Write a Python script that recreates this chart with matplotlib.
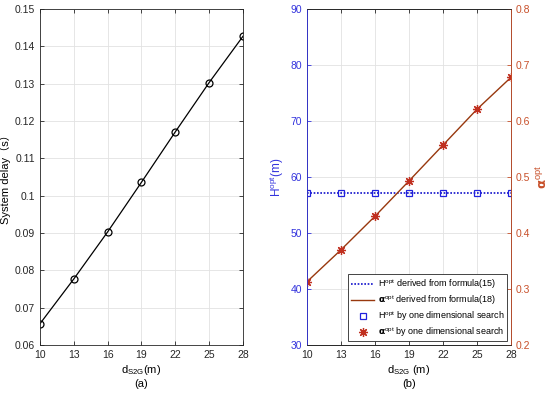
import matplotlib
matplotlib.use("Agg")
import matplotlib.pyplot as plt

plt.rcParams['font.family'] = ['Liberation Sans', 'Noto Sans CJK SC', 'DejaVu Sans']
plt.rcParams['mathtext.fontset'] = 'custom'
plt.rcParams['mathtext.rm'] = 'Liberation Sans'
plt.rcParams['mathtext.it'] = 'Liberation Sans'

d_s2g = [10, 13, 16, 19, 22, 25, 28]
delay = [0.0657, 0.0777, 0.0903, 0.1036, 0.1171, 0.1303, 0.1427]
h_formula = [57.1, 57.1, 57.1, 57.1, 57.1, 57.1, 57.1]
h_search = [57.1, 57.1, 57.1, 57.1, 57.1, 57.1, 57.1]
alpha_formula = [0.313, 0.370, 0.430, 0.493, 0.557, 0.621, 0.678]
alpha_search = [0.313, 0.370, 0.430, 0.493, 0.557, 0.621, 0.678]

blue = '#3333dd'
red = '#c8502a'
line_red = '#98380e'
fs = 7.5

fig = plt.figure(figsize=(5.5, 3.95), dpi=100)

# (a) system delay
ax1 = fig.add_axes([0.0727, 0.1266, 0.3691, 0.8506])
ax1.plot(d_s2g, delay, color='black', lw=0.9, marker='o', ms=5,
         mfc='none', mec='black', mew=0.9)
ax1.set_xlim(10, 28)
ax1.set_ylim(0.06, 0.15)
ax1.set_xticks(d_s2g)
ax1.set_yticks([0.06, 0.07, 0.08, 0.09, 0.1, 0.11, 0.12, 0.13, 0.14, 0.15])
ax1.set_yticklabels(['0.06', '0.07', '0.08', '0.09', '0.1', '0.11', '0.12',
                     '0.13', '0.14', '0.15'])
ax1.grid(True, color='#e2e2e2', lw=0.6)
ax1.tick_params(direction='in', top=True, right=True, labelsize=fs,
                length=3, width=0.6, colors='#262626')
for s in ax1.spines.values():
    s.set_linewidth(0.6)
    s.set_color('#262626')
ax1.set_ylabel('System delay（s）', fontsize=fs + 0.5, labelpad=3)
ax1.set_xlabel('d$_{\\mathrm{S2G}}$(m)\n(a)', fontsize=fs + 0.5, labelpad=2,
               linespacing=1.3)

# (b) optimal height and alpha
ax2 = fig.add_axes([0.5582, 0.1266, 0.3709, 0.8506])
ax3 = ax2.twinx()
l1, = ax2.plot(d_s2g, h_formula, color='#1010cc', lw=1.2, ls=(0, (1, 1)))
l3, = ax2.plot(d_s2g, h_search, color='#2020dd', lw=0, marker='s', ms=4.5,
               mfc='none', mew=0.9)
l2, = ax3.plot(d_s2g, alpha_formula, color=line_red, lw=1.0)
l4, = ax3.plot(d_s2g, alpha_search, color='#c03020', lw=0, marker=(8, 2, 0),
               ms=6.5, mew=0.9)

ax2.set_xlim(10, 28)
ax2.set_ylim(30, 90)
ax3.set_ylim(0.2, 0.8)
ax2.set_xticks(d_s2g)
ax2.set_yticks([30, 40, 50, 60, 70, 80, 90])
ax3.set_yticks([0.2, 0.3, 0.4, 0.5, 0.6, 0.7, 0.8])
ax2.grid(True, color='#e2e2e2', lw=0.6)
ax2.tick_params(axis='x', direction='in', top=True, labelsize=fs,
                length=3, width=0.6, colors='#262626')
ax2.tick_params(axis='y', direction='in', labelsize=fs, length=3, width=0.6,
                colors=blue)
ax3.tick_params(axis='y', direction='in', labelsize=fs, length=3, width=0.6,
                colors=red)
for s in ax2.spines.values():
    s.set_linewidth(0.6)
    s.set_color('#262626')
ax3.spines['left'].set_color(blue)
ax3.spines['right'].set_color(red)
ax3.spines['top'].set_color('#262626')
ax3.spines['bottom'].set_color('#262626')
for s in ax3.spines.values():
    s.set_linewidth(0.6)

ax2.set_ylabel('H$^{\\mathrm{opt}}$(m)', fontsize=fs + 1, color=blue, labelpad=3)
ax3.set_ylabel('$\\mathbf{\\alpha}^{\\mathrm{opt}}$', fontsize=fs + 2,
               color=red, labelpad=3)
ax2.set_xlabel('d$_{\\mathrm{S2G}}$ (m)\n(b)', fontsize=fs + 0.5, labelpad=2,
               linespacing=1.3)

leg = ax3.legend([l1, l2, l3, l4],
                 ['H$^{\\mathrm{opt}}$ derived from formula(15)',
                  '$\\mathbf{\\alpha}^{\\mathrm{opt}}$ derived from formula(18)',
                  'H$^{\\mathrm{opt}}$ by one dimensional search',
                  '$\\mathbf{\\alpha}^{\\mathrm{opt}}$ by one dimensional search'],
                 loc='lower right', fontsize=6.5, frameon=True, fancybox=False,
                 framealpha=1, edgecolor='#262626', handlelength=2.6,
                 borderpad=0.3, labelspacing=0.25, handletextpad=0.4,
                 borderaxespad=0.4)
leg.get_frame().set_linewidth(0.6)

fig.savefig('out.png', dpi=100)
